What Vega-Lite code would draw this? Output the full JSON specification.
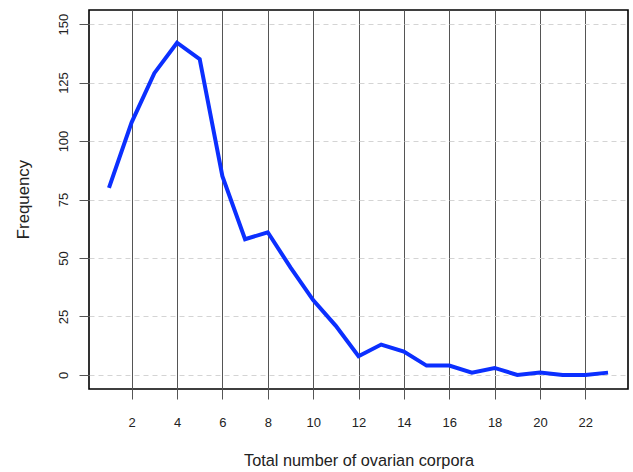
{
  "$schema": "https://vega.github.io/schema/vega-lite/v6.json",
  "autosize": {"type": "none"},
  "padding": {"left": 89, "top": 10, "right": 5, "bottom": 83},
  "width": 539,
  "height": 379,
  "background": "white",
  "config": {
    "view": {"stroke": "#000000", "strokeWidth": 1.6},
    "font": "Liberation Sans"
  },
  "data": {
    "values": [
      {"corpora": 1, "frequency": 80},
      {"corpora": 2, "frequency": 108},
      {"corpora": 3, "frequency": 129},
      {"corpora": 4, "frequency": 142},
      {"corpora": 5, "frequency": 135},
      {"corpora": 6, "frequency": 85},
      {"corpora": 7, "frequency": 58},
      {"corpora": 8, "frequency": 61},
      {"corpora": 9, "frequency": 46},
      {"corpora": 10, "frequency": 32},
      {"corpora": 11, "frequency": 21},
      {"corpora": 12, "frequency": 8},
      {"corpora": 13, "frequency": 13},
      {"corpora": 14, "frequency": 10},
      {"corpora": 15, "frequency": 4},
      {"corpora": 16, "frequency": 4},
      {"corpora": 17, "frequency": 1},
      {"corpora": 18, "frequency": 3},
      {"corpora": 19, "frequency": 0},
      {"corpora": 20, "frequency": 1},
      {"corpora": 21, "frequency": 0},
      {"corpora": 22, "frequency": 0},
      {"corpora": 23, "frequency": 1}
    ]
  },
  "mark": {"type": "line", "color": "#0b2fff", "strokeWidth": 4, "strokeJoin": "miter", "strokeCap": "butt"},
  "encoding": {
    "x": {
      "field": "corpora",
      "type": "quantitative",
      "scale": {"domain": [0.12, 23.88], "nice": false, "zero": false},
      "axis": {
        "title": "Total number of ovarian corpora",
        "values": [2, 4, 6, 8, 10, 12, 14, 16, 18, 20, 22],
        "domain": false,
        "grid": true,
        "gridColor": "#555555",
        "gridWidth": 1,
        "gridOpacity": 1,
        "ticks": true,
        "tickSize": 10,
        "tickColor": "#555555",
        "tickWidth": 1,
        "labelFont": "Liberation Sans",
        "labelFontSize": 13,
        "labelColor": "#222222",
        "labelBaseline": "alphabetic",
        "labelPadding": 27,
        "labelFlush": false,
        "labelOverlap": false,
        "titleFont": "Liberation Sans",
        "titleFontSize": 16.3,
        "titleFontWeight": "normal",
        "titleColor": "#222222",
        "titleBaseline": "alphabetic",
        "titleY": 76
      }
    },
    "y": {
      "field": "frequency",
      "type": "quantitative",
      "scale": {"domain": [-6, 156], "nice": false, "zero": false},
      "axis": {
        "title": "Frequency",
        "values": [0, 25, 50, 75, 100, 125, 150],
        "domain": false,
        "grid": true,
        "gridColor": "#d4d4d4",
        "gridDash": [5, 4],
        "gridWidth": 1,
        "gridOpacity": 1,
        "ticks": true,
        "tickSize": 10,
        "tickColor": "#555555",
        "tickWidth": 1,
        "labelFont": "Liberation Sans",
        "labelFontSize": 13,
        "labelColor": "#222222",
        "labelAngle": -90,
        "labelAlign": "center",
        "labelBaseline": "alphabetic",
        "labelPadding": 12,
        "labelFlush": false,
        "labelOverlap": false,
        "titleFont": "Liberation Sans",
        "titleFontSize": 16.8,
        "titleFontWeight": "normal",
        "titleColor": "#222222",
        "titleAngle": -90,
        "titleBaseline": "alphabetic",
        "titleAlign": "center",
        "titleX": -61,
        "titleY": 189
      }
    }
  }
}
